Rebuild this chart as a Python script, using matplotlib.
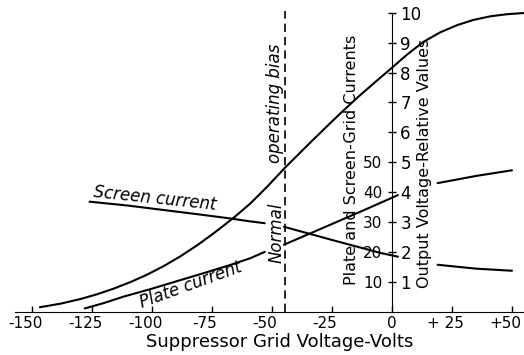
import numpy as np
import matplotlib
matplotlib.use("Agg")
import matplotlib.pyplot as plt
from matplotlib.transforms import ScaledTranslation

plt.rcParams['font.family'] = ['DejaVu Sans']

# suppressor grid voltage (volts) and curves read from the tube characteristic
out_v = [-146.7, -138, -130, -123, -116, -109, -102, -95, -88, -81, -74, -66, -59, -52, -45,
         -35, -28, -21, -14, -7, 0, 6, 13, 20, 27, 34, 41, 48, 55]
out_rel = [0.15, 0.27, 0.42, 0.58, 0.77, 0.99, 1.24, 1.53, 1.86, 2.23, 2.64, 3.14, 3.62, 4.18, 4.78,
           5.58, 6.13, 6.67, 7.19, 7.68, 8.16, 8.58, 9.02, 9.34, 9.58, 9.76, 9.88, 9.95, 9.99]

# plate and screen currents in mA; nan leaves room for the labels
plate_v = [-128, -120, -112, -100, -88, -78, -67.5, -59, -53, np.nan,
           -45, -30, -13, 2.5, np.nan, 19, 35, 50]
plate_ma = [1.1, 2.9, 5.0, 7.7, 10.6, 13.0, 15.6, 17.9, 20.0, np.nan,
            22.4, 27.6, 33.5, 39.0, np.nan, 43.0, 45.4, 47.3]

screen_v = [-126, -110, -95, -80, -67.5, -59, -53, np.nan,
            -45, -25, -5, 2.5, np.nan, 19, 35, 50]
screen_ma = [36.8, 35.5, 34.0, 32.5, 31.2, 30.2, 29.6, np.nan,
             28.4, 24.0, 19.7, 18.4, np.nan, 15.7, 14.4, 13.7]

operating_bias = -44.6

x_ticks = [-150, -125, -100, -75, -50, -25, 0, 25, 50]
x_labels = ['-150', '-125', '-100', '-75', '-50', '-25', '0', '+ 25', '+50']
rel_ticks = list(range(1, 11))
ma_labels = ['10', '20', '30', '40', '50']

fig = plt.figure(figsize=(5.24, 3.55), dpi=100)
ax = fig.add_axes([0, 0, 1, 1])
ax.set_xlim(-163.3, 55)
ax.set_ylim(-1.448, 10.425)

# currents share the 0-10 scale: 10 mA per division
ax.plot(out_v, out_rel, color='black', lw=1.5, solid_capstyle='round')
ax.plot(plate_v, np.array(plate_ma) / 10, color='black', lw=1.5, solid_capstyle='round')
ax.plot(screen_v, np.array(screen_ma) / 10, color='black', lw=1.5, solid_capstyle='round')
ax.vlines(operating_bias, 0, 10.05, colors='black', lw=1.2, linestyles=(0, (5, 3)))

for s in ['top', 'right']:
    ax.spines[s].set_visible(False)
ax.spines['bottom'].set_position(('data', 0))
ax.spines['bottom'].set_bounds(-157, 55)
ax.spines['left'].set_position(('data', 0))
ax.spines['left'].set_bounds(0, 10)

ax.set_xticks(x_ticks)
ax.set_xticklabels(x_labels, fontsize=11)
ax.tick_params(axis='x', direction='in', length=4.5, width=1, pad=3)
# signed labels sit a little left of their ticks
shift = ScaledTranslation(-5 / 72, 0, fig.dpi_scale_trans)
for lab in ax.get_xticklabels():
    if lab.get_text() != '0':
        lab.set_transform(lab.get_transform() + shift)

ax.set_yticks(rel_ticks)
ax.set_yticklabels(ma_labels + [''] * 5, fontsize=11)
ax.tick_params(axis='y', direction='inout', length=6, width=1, pad=4)

ax2 = ax.twinx()
ax2.set_ylim(ax.get_ylim())
for s in ['top', 'left', 'bottom', 'right']:
    ax2.spines[s].set_visible(False)
ax2.spines['right'].set_position(('data', 0))
ax2.set_yticks(rel_ticks)
ax2.set_yticklabels([str(t) for t in rel_ticks], fontsize=12)
ax2.tick_params(axis='y', length=0, pad=6)

ax.text(-124.6, 3.83, 'Screen current', style='italic', fontsize=12,
        rotation=-6, rotation_mode='anchor', ha='left', va='baseline')
ax.text(-104.3, 0.12, 'Plate current', style='italic', fontsize=12,
        rotation=20, rotation_mode='anchor', ha='left', va='baseline')
ax.text(-48.8, 6.97, 'operating bias', style='italic', fontsize=12,
        rotation=90, ha='center', va='center')
ax.text(-47.9, 2.63, 'Normal', style='italic', fontsize=12,
        rotation=90, ha='center', va='center')
ax.text(-17.0, 5.07, 'Plate and Screen-Grid Currents', fontsize=11.5,
        rotation=90, ha='center', va='center')
ax.text(13.75, 4.97, 'Output Voltage-Relative Values', fontsize=11.5,
        rotation=90, ha='center', va='center')
ax.text(-46.7, -1.01, 'Suppressor Grid Voltage-Volts', fontsize=13,
        ha='center', va='center')

fig.savefig('out.png', dpi=100)
